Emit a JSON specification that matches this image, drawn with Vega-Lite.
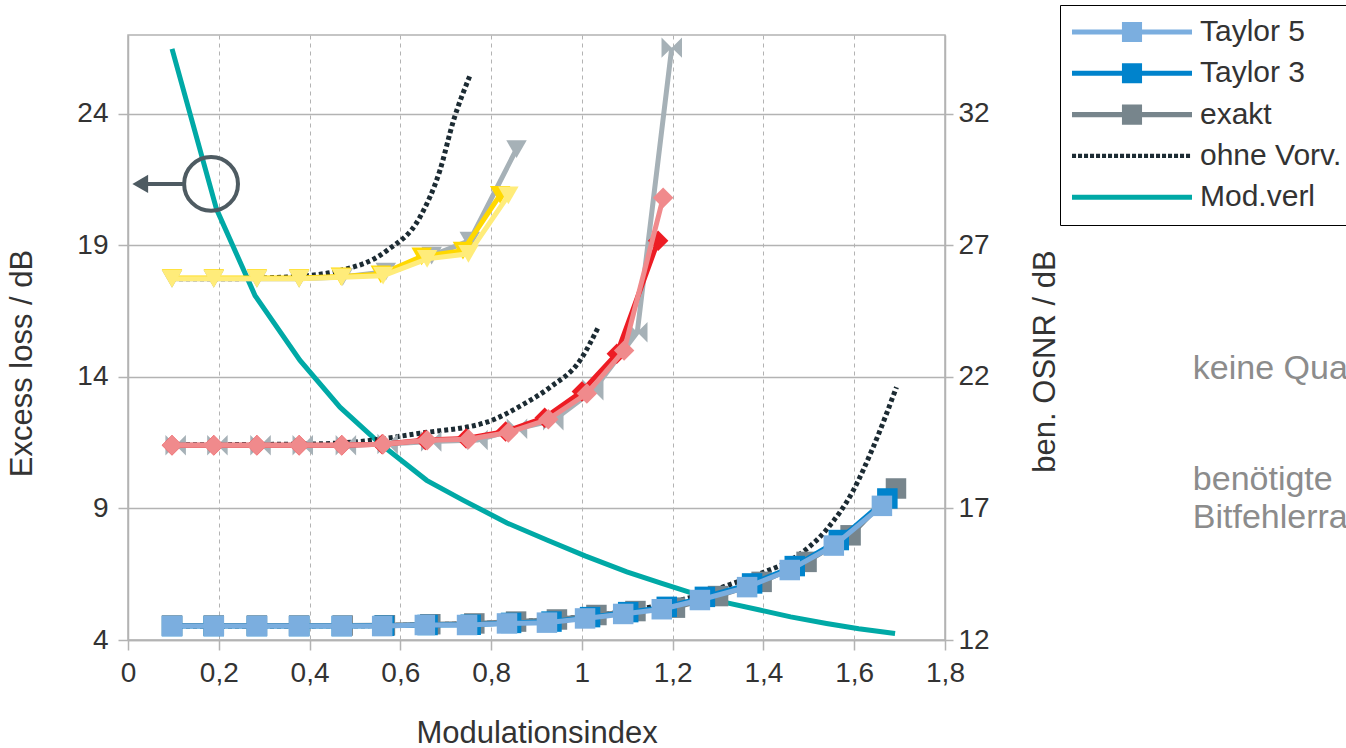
{
  "$schema": "https://vega.github.io/schema/vega-lite/v6.json",
  "width": 817,
  "height": 605,
  "autosize": "none",
  "padding": {"left": 128, "top": 35, "right": 401, "bottom": 108},
  "background": "white",
  "config": {
    "font": "Liberation Sans",
    "view": {"stroke": "#b3b3b3", "strokeWidth": 1.5},
    "axis": {"labelFont": "Liberation Sans", "titleFont": "Liberation Sans", "labelColor": "#333333", "titleColor": "#333333", "titleFontWeight": "normal", "labelFontSize": 28, "titleFontSize": 31, "domainColor": "#b3b3b3", "tickColor": "#b3b3b3", "domainWidth": 1.5, "tickWidth": 1.5}
  },
  "datasets": {
    "osnr": [
      {"x": 0.097, "y": 12.53, "series": "ohne Vorv.", "method": "ohne Vorv.", "group": "A"},
      {"x": 0.47, "y": 12.54, "series": "ohne Vorv.", "method": "ohne Vorv.", "group": "A"},
      {"x": 0.66, "y": 12.58, "series": "ohne Vorv.", "method": "ohne Vorv.", "group": "A"},
      {"x": 0.84, "y": 12.68, "series": "ohne Vorv.", "method": "ohne Vorv.", "group": "A"},
      {"x": 1.0, "y": 12.88, "series": "ohne Vorv.", "method": "ohne Vorv.", "group": "A"},
      {"x": 1.15, "y": 13.25, "series": "ohne Vorv.", "method": "ohne Vorv.", "group": "A"},
      {"x": 1.26, "y": 13.72, "series": "ohne Vorv.", "method": "ohne Vorv.", "group": "A"},
      {"x": 1.323, "y": 14.09, "series": "ohne Vorv.", "method": "ohne Vorv.", "group": "A"},
      {"x": 1.392, "y": 14.52, "series": "ohne Vorv.", "method": "ohne Vorv.", "group": "A"},
      {"x": 1.466, "y": 15.1, "series": "ohne Vorv.", "method": "ohne Vorv.", "group": "A"},
      {"x": 1.539, "y": 16.2, "series": "ohne Vorv.", "method": "ohne Vorv.", "group": "A"},
      {"x": 1.598, "y": 17.69, "series": "ohne Vorv.", "method": "ohne Vorv.", "group": "A"},
      {"x": 1.642, "y": 19.34, "series": "ohne Vorv.", "method": "ohne Vorv.", "group": "A"},
      {"x": 1.693, "y": 21.61, "series": "ohne Vorv.", "method": "ohne Vorv.", "group": "A"},

      {"x": 0.097, "y": 19.42, "series": "ohne Vorv.", "method": "ohne Vorv.", "group": "B"},
      {"x": 0.4, "y": 19.45, "series": "ohne Vorv.", "method": "ohne Vorv.", "group": "B"},
      {"x": 0.5, "y": 19.53, "series": "ohne Vorv.", "method": "ohne Vorv.", "group": "B"},
      {"x": 0.643, "y": 19.86, "series": "ohne Vorv.", "method": "ohne Vorv.", "group": "B"},
      {"x": 0.79, "y": 20.28, "series": "ohne Vorv.", "method": "ohne Vorv.", "group": "B"},
      {"x": 0.87, "y": 20.95, "series": "ohne Vorv.", "method": "ohne Vorv.", "group": "B"},
      {"x": 0.93, "y": 21.61, "series": "ohne Vorv.", "method": "ohne Vorv.", "group": "B"},
      {"x": 0.996, "y": 22.63, "series": "ohne Vorv.", "method": "ohne Vorv.", "group": "B"},
      {"x": 1.036, "y": 23.89, "series": "ohne Vorv.", "method": "ohne Vorv.", "group": "B"},

      {"x": 0.097, "y": 25.73, "series": "ohne Vorv.", "method": "ohne Vorv.", "group": "C"},
      {"x": 0.195, "y": 25.73, "series": "ohne Vorv.", "method": "ohne Vorv.", "group": "C"},
      {"x": 0.35, "y": 25.8, "series": "ohne Vorv.", "method": "ohne Vorv.", "group": "C"},
      {"x": 0.46, "y": 26.02, "series": "ohne Vorv.", "method": "ohne Vorv.", "group": "C"},
      {"x": 0.57, "y": 26.8, "series": "ohne Vorv.", "method": "ohne Vorv.", "group": "C"},
      {"x": 0.643, "y": 28.07, "series": "ohne Vorv.", "method": "ohne Vorv.", "group": "C"},
      {"x": 0.687, "y": 29.84, "series": "ohne Vorv.", "method": "ohne Vorv.", "group": "C"},
      {"x": 0.717, "y": 31.74, "series": "ohne Vorv.", "method": "ohne Vorv.", "group": "C"},
      {"x": 0.753, "y": 33.44, "series": "ohne Vorv.", "method": "ohne Vorv.", "group": "C"},

      {"x": 0.097, "y": 12.55, "series": "exakt", "method": "exakt", "group": "A"},
      {"x": 0.189, "y": 12.55, "series": "exakt", "method": "exakt", "group": "A"},
      {"x": 0.284, "y": 12.55, "series": "exakt", "method": "exakt", "group": "A"},
      {"x": 0.377, "y": 12.55, "series": "exakt", "method": "exakt", "group": "A"},
      {"x": 0.473, "y": 12.55, "series": "exakt", "method": "exakt", "group": "A"},
      {"x": 0.566, "y": 12.56, "series": "exakt", "method": "exakt", "group": "A"},
      {"x": 0.666, "y": 12.6, "series": "exakt", "method": "exakt", "group": "A"},
      {"x": 0.763, "y": 12.63, "series": "exakt", "method": "exakt", "group": "A"},
      {"x": 0.855, "y": 12.7, "series": "exakt", "method": "exakt", "group": "A"},
      {"x": 0.945, "y": 12.78, "series": "exakt", "method": "exakt", "group": "A"},
      {"x": 1.032, "y": 12.95, "series": "exakt", "method": "exakt", "group": "A"},
      {"x": 1.118, "y": 13.1, "series": "exakt", "method": "exakt", "group": "A"},
      {"x": 1.205, "y": 13.23, "series": "exakt", "method": "exakt", "group": "A"},
      {"x": 1.3, "y": 13.67, "series": "exakt", "method": "exakt", "group": "A"},
      {"x": 1.396, "y": 14.21, "series": "exakt", "method": "exakt", "group": "A"},
      {"x": 1.495, "y": 14.97, "series": "exakt", "method": "exakt", "group": "A"},
      {"x": 1.592, "y": 15.98, "series": "exakt", "method": "exakt", "group": "A"},
      {"x": 1.692, "y": 17.76, "series": "exakt", "method": "exakt", "group": "A"},

      {"x": 0.105, "y": 19.4, "series": "exakt (2)", "method": "exakt", "group": "B"},
      {"x": 0.197, "y": 19.4, "series": "exakt (2)", "method": "exakt", "group": "B"},
      {"x": 0.292, "y": 19.4, "series": "exakt (2)", "method": "exakt", "group": "B"},
      {"x": 0.385, "y": 19.4, "series": "exakt (2)", "method": "exakt", "group": "B"},
      {"x": 0.48, "y": 19.4, "series": "exakt (2)", "method": "exakt", "group": "B"},
      {"x": 0.572, "y": 19.45, "series": "exakt (2)", "method": "exakt", "group": "B"},
      {"x": 0.668, "y": 19.55, "series": "exakt (2)", "method": "exakt", "group": "B"},
      {"x": 0.77, "y": 19.6, "series": "exakt (2)", "method": "exakt", "group": "B"},
      {"x": 0.857, "y": 20.03, "series": "exakt (2)", "method": "exakt", "group": "B"},
      {"x": 0.937, "y": 20.35, "series": "exakt (2)", "method": "exakt", "group": "B"},
      {"x": 1.025, "y": 21.49, "series": "exakt (2)", "method": "exakt", "group": "B"},
      {"x": 1.122, "y": 23.7, "series": "exakt (2)", "method": "exakt", "group": "B"},
      {"x": 1.198, "y": 34.52, "series": "exakt (2)", "method": "exakt", "group": "B"},

      {"x": 0.097, "y": 25.73, "series": "exakt (3)", "method": "exakt", "group": "C"},
      {"x": 0.189, "y": 25.73, "series": "exakt (3)", "method": "exakt", "group": "C"},
      {"x": 0.284, "y": 25.73, "series": "exakt (3)", "method": "exakt", "group": "C"},
      {"x": 0.377, "y": 25.73, "series": "exakt (3)", "method": "exakt", "group": "C"},
      {"x": 0.473, "y": 25.8, "series": "exakt (3)", "method": "exakt", "group": "C"},
      {"x": 0.568, "y": 26.0, "series": "exakt (3)", "method": "exakt", "group": "C"},
      {"x": 0.669, "y": 26.61, "series": "exakt (3)", "method": "exakt", "group": "C"},
      {"x": 0.753, "y": 27.18, "series": "exakt (3)", "method": "exakt", "group": "C"},
      {"x": 0.856, "y": 30.66, "series": "exakt (3)", "method": "exakt", "group": "C"},

      {"x": 0.097, "y": 12.53, "series": "Taylor 3", "method": "Taylor 3", "group": "A"},
      {"x": 0.189, "y": 12.53, "series": "Taylor 3", "method": "Taylor 3", "group": "A"},
      {"x": 0.284, "y": 12.53, "series": "Taylor 3", "method": "Taylor 3", "group": "A"},
      {"x": 0.377, "y": 12.53, "series": "Taylor 3", "method": "Taylor 3", "group": "A"},
      {"x": 0.471, "y": 12.53, "series": "Taylor 3", "method": "Taylor 3", "group": "A"},
      {"x": 0.564, "y": 12.54, "series": "Taylor 3", "method": "Taylor 3", "group": "A"},
      {"x": 0.66, "y": 12.57, "series": "Taylor 3", "method": "Taylor 3", "group": "A"},
      {"x": 0.755, "y": 12.58, "series": "Taylor 3", "method": "Taylor 3", "group": "A"},
      {"x": 0.844, "y": 12.65, "series": "Taylor 3", "method": "Taylor 3", "group": "A"},
      {"x": 0.933, "y": 12.7, "series": "Taylor 3", "method": "Taylor 3", "group": "A"},
      {"x": 1.018, "y": 12.87, "series": "Taylor 3", "method": "Taylor 3", "group": "A"},
      {"x": 1.102, "y": 13.06, "series": "Taylor 3", "method": "Taylor 3", "group": "A"},
      {"x": 1.187, "y": 13.26, "series": "Taylor 3", "method": "Taylor 3", "group": "A"},
      {"x": 1.271, "y": 13.64, "series": "Taylor 3", "method": "Taylor 3", "group": "A"},
      {"x": 1.375, "y": 14.15, "series": "Taylor 3", "method": "Taylor 3", "group": "A"},
      {"x": 1.469, "y": 14.81, "series": "Taylor 3", "method": "Taylor 3", "group": "A"},
      {"x": 1.566, "y": 15.8, "series": "Taylor 3", "method": "Taylor 3", "group": "A"},
      {"x": 1.673, "y": 17.38, "series": "Taylor 3", "method": "Taylor 3", "group": "A"},

      {"x": 0.097, "y": 19.4, "series": "Taylor 3 (2)", "method": "Taylor 3", "group": "B"},
      {"x": 0.189, "y": 19.4, "series": "Taylor 3 (2)", "method": "Taylor 3", "group": "B"},
      {"x": 0.284, "y": 19.4, "series": "Taylor 3 (2)", "method": "Taylor 3", "group": "B"},
      {"x": 0.377, "y": 19.4, "series": "Taylor 3 (2)", "method": "Taylor 3", "group": "B"},
      {"x": 0.471, "y": 19.4, "series": "Taylor 3 (2)", "method": "Taylor 3", "group": "B"},
      {"x": 0.56, "y": 19.44, "series": "Taylor 3 (2)", "method": "Taylor 3", "group": "B"},
      {"x": 0.655, "y": 19.6, "series": "Taylor 3 (2)", "method": "Taylor 3", "group": "B"},
      {"x": 0.745, "y": 19.66, "series": "Taylor 3 (2)", "method": "Taylor 3", "group": "B"},
      {"x": 0.832, "y": 19.93, "series": "Taylor 3 (2)", "method": "Taylor 3", "group": "B"},
      {"x": 0.918, "y": 20.45, "series": "Taylor 3 (2)", "method": "Taylor 3", "group": "B"},
      {"x": 1.0, "y": 21.45, "series": "Taylor 3 (2)", "method": "Taylor 3", "group": "B"},
      {"x": 1.077, "y": 22.88, "series": "Taylor 3 (2)", "method": "Taylor 3", "group": "B"},
      {"x": 1.168, "y": 27.18, "series": "Taylor 3 (2)", "method": "Taylor 3", "group": "B"},

      {"x": 0.097, "y": 25.76, "series": "Taylor 3 (3)", "method": "Taylor 3", "group": "C"},
      {"x": 0.189, "y": 25.76, "series": "Taylor 3 (3)", "method": "Taylor 3", "group": "C"},
      {"x": 0.284, "y": 25.76, "series": "Taylor 3 (3)", "method": "Taylor 3", "group": "C"},
      {"x": 0.377, "y": 25.76, "series": "Taylor 3 (3)", "method": "Taylor 3", "group": "C"},
      {"x": 0.469, "y": 25.82, "series": "Taylor 3 (3)", "method": "Taylor 3", "group": "C"},
      {"x": 0.557, "y": 25.9, "series": "Taylor 3 (3)", "method": "Taylor 3", "group": "C"},
      {"x": 0.647, "y": 26.58, "series": "Taylor 3 (3)", "method": "Taylor 3", "group": "C"},
      {"x": 0.738, "y": 26.8, "series": "Taylor 3 (3)", "method": "Taylor 3", "group": "C"},
      {"x": 0.82, "y": 28.92, "series": "Taylor 3 (3)", "method": "Taylor 3", "group": "C"},

      {"x": 0.097, "y": 12.53, "series": "Taylor 5", "method": "Taylor 5", "group": "A"},
      {"x": 0.189, "y": 12.53, "series": "Taylor 5", "method": "Taylor 5", "group": "A"},
      {"x": 0.284, "y": 12.53, "series": "Taylor 5", "method": "Taylor 5", "group": "A"},
      {"x": 0.377, "y": 12.53, "series": "Taylor 5", "method": "Taylor 5", "group": "A"},
      {"x": 0.471, "y": 12.53, "series": "Taylor 5", "method": "Taylor 5", "group": "A"},
      {"x": 0.56, "y": 12.53, "series": "Taylor 5", "method": "Taylor 5", "group": "A"},
      {"x": 0.654, "y": 12.57, "series": "Taylor 5", "method": "Taylor 5", "group": "A"},
      {"x": 0.747, "y": 12.57, "series": "Taylor 5", "method": "Taylor 5", "group": "A"},
      {"x": 0.835, "y": 12.63, "series": "Taylor 5", "method": "Taylor 5", "group": "A"},
      {"x": 0.923, "y": 12.66, "series": "Taylor 5", "method": "Taylor 5", "group": "A"},
      {"x": 1.007, "y": 12.82, "series": "Taylor 5", "method": "Taylor 5", "group": "A"},
      {"x": 1.091, "y": 12.99, "series": "Taylor 5", "method": "Taylor 5", "group": "A"},
      {"x": 1.176, "y": 13.17, "series": "Taylor 5", "method": "Taylor 5", "group": "A"},
      {"x": 1.26, "y": 13.52, "series": "Taylor 5", "method": "Taylor 5", "group": "A"},
      {"x": 1.364, "y": 14.01, "series": "Taylor 5", "method": "Taylor 5", "group": "A"},
      {"x": 1.458, "y": 14.66, "series": "Taylor 5", "method": "Taylor 5", "group": "A"},
      {"x": 1.555, "y": 15.59, "series": "Taylor 5", "method": "Taylor 5", "group": "A"},
      {"x": 1.661, "y": 17.1, "series": "Taylor 5", "method": "Taylor 5", "group": "A"},

      {"x": 0.097, "y": 19.4, "series": "Taylor 5 (2)", "method": "Taylor 5", "group": "B"},
      {"x": 0.189, "y": 19.4, "series": "Taylor 5 (2)", "method": "Taylor 5", "group": "B"},
      {"x": 0.284, "y": 19.4, "series": "Taylor 5 (2)", "method": "Taylor 5", "group": "B"},
      {"x": 0.377, "y": 19.4, "series": "Taylor 5 (2)", "method": "Taylor 5", "group": "B"},
      {"x": 0.471, "y": 19.4, "series": "Taylor 5 (2)", "method": "Taylor 5", "group": "B"},
      {"x": 0.562, "y": 19.44, "series": "Taylor 5 (2)", "method": "Taylor 5", "group": "B"},
      {"x": 0.659, "y": 19.59, "series": "Taylor 5 (2)", "method": "Taylor 5", "group": "B"},
      {"x": 0.75, "y": 19.63, "series": "Taylor 5 (2)", "method": "Taylor 5", "group": "B"},
      {"x": 0.838, "y": 19.89, "series": "Taylor 5 (2)", "method": "Taylor 5", "group": "B"},
      {"x": 0.926, "y": 20.39, "series": "Taylor 5 (2)", "method": "Taylor 5", "group": "B"},
      {"x": 1.011, "y": 21.37, "series": "Taylor 5 (2)", "method": "Taylor 5", "group": "B"},
      {"x": 1.093, "y": 23.01, "series": "Taylor 5 (2)", "method": "Taylor 5", "group": "B"},
      {"x": 1.179, "y": 28.81, "series": "Taylor 5 (2)", "method": "Taylor 5", "group": "B"},

      {"x": 0.097, "y": 25.73, "series": "Taylor 5 (3)", "method": "Taylor 5", "group": "C"},
      {"x": 0.189, "y": 25.73, "series": "Taylor 5 (3)", "method": "Taylor 5", "group": "C"},
      {"x": 0.284, "y": 25.73, "series": "Taylor 5 (3)", "method": "Taylor 5", "group": "C"},
      {"x": 0.377, "y": 25.73, "series": "Taylor 5 (3)", "method": "Taylor 5", "group": "C"},
      {"x": 0.471, "y": 25.79, "series": "Taylor 5 (3)", "method": "Taylor 5", "group": "C"},
      {"x": 0.562, "y": 25.85, "series": "Taylor 5 (3)", "method": "Taylor 5", "group": "C"},
      {"x": 0.659, "y": 26.49, "series": "Taylor 5 (3)", "method": "Taylor 5", "group": "C"},
      {"x": 0.75, "y": 26.68, "series": "Taylor 5 (3)", "method": "Taylor 5", "group": "C"},
      {"x": 0.838, "y": 28.9, "series": "Taylor 5 (3)", "method": "Taylor 5", "group": "C"}
    ],
    "loss": [
      {"x": 0.097, "y": 26.47, "series": "Mod.verl"},
      {"x": 0.195, "y": 20.38, "series": "Mod.verl"},
      {"x": 0.28, "y": 17.09, "series": "Mod.verl"},
      {"x": 0.379, "y": 14.63, "series": "Mod.verl"},
      {"x": 0.467, "y": 12.85, "series": "Mod.verl"},
      {"x": 0.555, "y": 11.47, "series": "Mod.verl"},
      {"x": 0.658, "y": 10.07, "series": "Mod.verl"},
      {"x": 0.739, "y": 9.31, "series": "Mod.verl"},
      {"x": 0.835, "y": 8.45, "series": "Mod.verl"},
      {"x": 0.923, "y": 7.8, "series": "Mod.verl"},
      {"x": 1.007, "y": 7.2, "series": "Mod.verl"},
      {"x": 1.099, "y": 6.59, "series": "Mod.verl"},
      {"x": 1.176, "y": 6.15, "series": "Mod.verl"},
      {"x": 1.245, "y": 5.77, "series": "Mod.verl"},
      {"x": 1.31, "y": 5.45, "series": "Mod.verl"},
      {"x": 1.392, "y": 5.14, "series": "Mod.verl"},
      {"x": 1.46, "y": 4.88, "series": "Mod.verl"},
      {"x": 1.539, "y": 4.63, "series": "Mod.verl"},
      {"x": 1.61, "y": 4.43, "series": "Mod.verl"},
      {"x": 1.69, "y": 4.25, "series": "Mod.verl"}
    ],
    "ring": [{"x": 0.183, "y": 21.34}],
    "arrowShaft": [{"x": 0.04, "x2": 0.121, "y": 21.34}],
    "arrowHead": [{"x": 0.027, "y": 21.34}],
    "notes": [
      {"x": 2.346, "y": 14.32, "text": "keine Quantisierung"},
      {"x": 2.346, "y": 10.07, "text": "benötigte"},
      {"x": 2.346, "y": 8.62, "text": "Bitfehlerrate"}
    ]
  },
  "encoding": {
    "x": {
      "field": "x", "type": "quantitative",
      "scale": {"domain": [0, 1.8], "nice": false, "zero": false},
      "axis": {
        "title": "Modulationsindex",
        "values": [0, 0.2, 0.4, 0.6, 0.8, 1, 1.2, 1.4, 1.6, 1.8],
        "labelExpr": "replace(format(datum.value, '~g'), '.', ',')",
        "grid": true, "gridColor": "#b3b3b3", "gridDash": [4, 4], "gridWidth": 1,
        "tickSize": 10, "labelPadding": 9, "titlePadding": 31, "labelFlush": false
      }
    }
  },
  "layer": [
    {
      "encoding": {
        "y": {
          "field": "y", "type": "quantitative",
          "scale": {"domain": [4, 27], "nice": false, "zero": false},
          "axis": {
            "title": "Excess loss / dB", "orient": "left",
            "values": [4, 9, 14, 19, 24],
            "grid": true, "gridColor": "#b3b3b3", "gridWidth": 1.5,
            "tickSize": 10, "labelPadding": 10, "titlePadding": 38, "titleY": 328
          }
        }
      },
      "layer": [
        {
          "data": {"name": "loss"},
          "mark": {"type": "line", "strokeWidth": 5},
          "encoding": {
            "color": {"field": "series", "type": "nominal"}
          }
        },
        {
          "data": {"name": "ring"},
          "mark": {"type": "point", "shape": "circle", "filled": false, "size": 2900, "strokeWidth": 4, "color": "#4e5b62", "opacity": 1}
        },
        {
          "data": {"name": "arrowShaft"},
          "mark": {"type": "rule", "strokeWidth": 4, "color": "#4e5b62"},
          "encoding": {"x2": {"field": "x2"}}
        },
        {
          "data": {"name": "arrowHead"},
          "mark": {"type": "point", "shape": "triangle-left", "filled": true, "size": 330, "color": "#4e5b62", "opacity": 1}
        },
        {
          "data": {"name": "notes"},
          "mark": {"type": "text", "align": "left", "baseline": "middle", "fontSize": 34, "color": "#8c8c8c", "font": "Liberation Sans", "clip": false},
          "encoding": {"text": {"field": "text"}}
        }
      ]
    },
    {
      "data": {"name": "osnr"},
      "encoding": {
        "y": {
          "field": "y", "type": "quantitative",
          "scale": {"domain": [12, 35], "nice": false, "zero": false},
          "axis": {
            "title": "ben. OSNR / dB", "orient": "right",
            "values": [12, 17, 22, 27, 32],
            "grid": false,
            "tickSize": 8, "labelPadding": 5, "titlePadding": 72, "titleAngle": 270, "titleY": 326
          }
        },
        "color": {
          "field": "series", "type": "nominal",
          "scale": {
            "domain": ["Taylor 5", "Taylor 3", "exakt", "ohne Vorv.", "Mod.verl", "Taylor 5 (2)", "Taylor 3 (2)", "exakt (2)", "Taylor 5 (3)", "Taylor 3 (3)", "exakt (3)"],
            "range": ["#7baedf", "#0083cc", "#77858c", "#1c2b33", "#00a9a6", "#f08a8c", "#ed1c24", "#a6b1b7", "#ffec7a", "#ffd800", "#a6b1b7"]
          },
          "legend": {
            "values": ["Taylor 5", "Taylor 3", "exakt", "ohne Vorv.", "Mod.verl"],
            "title": null,
            "orient": "none", "legendX": 932, "legendY": -30,
            "padding": 12, "rowPadding": 11.3,
            "strokeColor": "#000000", "fillColor": "#ffffff",
            "labelFontSize": 30, "labelColor": "#333333", "labelFont": "Liberation Sans",
            "labelOffset": 98, "labelLimit": 400,
            "symbolSize": 900, "symbolStrokeWidth": 0,
            "encode": {
              "symbols": {
                "update": {
                  "shape": {"signal": "datum.value === 'ohne Vorv.' ? 'M-1,-0.14H-0.73V0.14H-1Z M-0.6,-0.14H-0.33V0.14H-0.6Z M-0.2,-0.14H0.07V0.14H-0.2Z M0.2,-0.14H0.47V0.14H0.2Z M0.6,-0.14H0.87V0.14H0.6Z M1,-0.14H1.27V0.14H1Z M1.4,-0.14H1.67V0.14H1.4Z M1.8,-0.14H2.07V0.14H1.8Z M2.2,-0.14H2.47V0.14H2.2Z M2.6,-0.14H2.87V0.14H2.6Z M3,-0.14H3.27V0.14H3Z M3.4,-0.14H3.67V0.14H3.4Z M3.8,-0.14H4.07V0.14H3.8Z M4.2,-0.14H4.47V0.14H4.2Z M4.6,-0.14H4.87V0.14H4.6Z M5,-0.14H5.27V0.14H5Z M5.4,-0.14H5.67V0.14H5.4Z M5.8,-0.14H6.07V0.14H5.8Z M6.2,-0.14H6.47V0.14H6.2Z M6.6,-0.14H6.87V0.14H6.6Z' : datum.value === 'Mod.verl' ? 'M-1,-0.17H7V0.17H-1Z' : 'M-1,-0.17H7V0.17H-1Z M2.33,-0.67H3.67V0.67H2.33Z'"},
                  "fill": {"scale": "color", "field": "value"},
                  "stroke": {"value": "transparent"},
                  "strokeWidth": {"value": 0},
                  "opacity": {"value": 1},
                  "size": {"value": 900}
                }
              }
            }
          }
        },
        "shape": {
          "field": "series", "type": "nominal",
          "scale": {
            "domain": ["Taylor 5", "Taylor 3", "exakt", "Taylor 5 (2)", "Taylor 3 (2)", "exakt (2)", "Taylor 5 (3)", "Taylor 3 (3)", "exakt (3)"],
            "range": ["square", "square", "square", "diamond", "diamond", "M-1,-1L0,0L-1,1Z M1,-1L1,1L0,0Z", "triangle-down", "triangle-down", "triangle-down"]
          },
          "legend": null
        }
      },
      "layer": [
        {
          "transform": [{"filter": "datum.method === 'ohne Vorv.'"}],
          "mark": {"type": "line", "strokeWidth": 5, "strokeDash": [4, 3], "strokeCap": "butt", "interpolate": "monotone"},
          "encoding": {"detail": {"field": "group"}, "shape": null}
        },
        {
          "transform": [{"filter": "datum.method === 'exakt'"}],
          "mark": {"type": "line", "strokeWidth": 5},
          "encoding": {"shape": null}
        },
        {
          "transform": [{"filter": "datum.method === 'exakt'"}],
          "mark": {"type": "point", "filled": true, "opacity": 1, "size": 420}
        },
        {
          "transform": [{"filter": "datum.method === 'Taylor 3'"}],
          "mark": {"type": "line", "strokeWidth": 5},
          "encoding": {"shape": null}
        },
        {
          "transform": [{"filter": "datum.method === 'Taylor 3'"}],
          "mark": {"type": "point", "filled": true, "opacity": 1, "size": 420}
        },
        {
          "transform": [{"filter": "datum.method === 'Taylor 5'"}],
          "mark": {"type": "line", "strokeWidth": 5},
          "encoding": {"shape": null}
        },
        {
          "transform": [{"filter": "datum.method === 'Taylor 5'"}],
          "mark": {"type": "point", "filled": true, "opacity": 1, "size": 420}
        }
      ]
    }
  ],
  "resolve": {"scale": {"y": "independent"}}
}
